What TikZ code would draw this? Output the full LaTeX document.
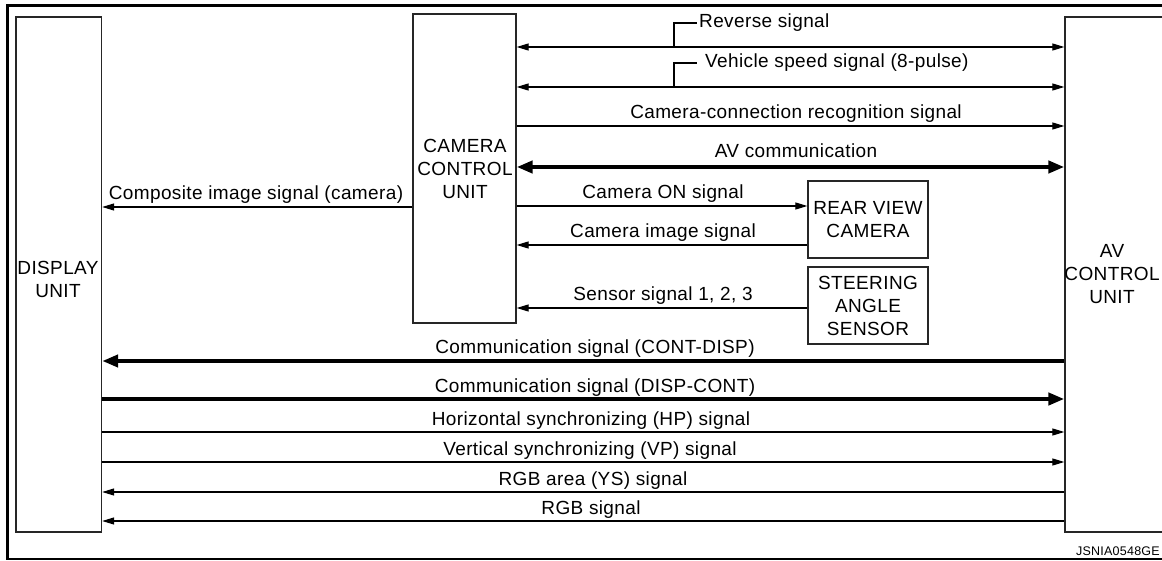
\documentclass[tikz,border=0pt]{standalone}
\usepackage{fontspec}
\setmainfont[LetterSpace=2]{Liberation Sans}
\usetikzlibrary{arrows.meta}
\begin{document}
\begin{tikzpicture}[x=1pt,y=-1pt,
  box/.style={draw=black!85,line width=1.3pt,inner sep=0pt},
  boxtxt/.style={align=center,inner sep=0pt,font=\fontsize{19}{23}\selectfont},
  lbl/.style={anchor=base,inner sep=0pt,font=\fontsize{19}{23}\selectfont},
  sig/.style={line width=1.2pt},
  sigr/.style={sig,-{Triangle[length=12pt,width=7pt]}},
  sigb/.style={sig,{Triangle[length=12pt,width=7pt]}-{Triangle[length=12pt,width=7pt]}},
  fatr/.style={line width=4.5pt,-{Triangle[length=16pt,width=12pt]}},
  fatb/.style={line width=4.5pt,{Triangle[length=16pt,width=12pt]}-{Triangle[length=16pt,width=12pt]}}
]
\useasboundingbox (0,0) rectangle (1162,561);
\clip (0,0) rectangle (1162,561);
\fill[white] (0,0) rectangle (1162,561);

% outer frame
\draw[line width=2.8pt] (1180,5.5) -- (7.5,5.5) -- (7.5,559) -- (1180,559);

% units
\node[box,minimum width=85.5pt,minimum height=515pt] (disp) at (58.75,274.5) {};
\node[boxtxt] (disptxt) at (58,279) {DISPLAY\\UNIT};
\node[box,minimum width=103pt,minimum height=309pt] (ccu) at (464.5,168.5) {};
\node[boxtxt] (ccutxt) at (465,169) {CAMERA\\CONTROL\\UNIT};
\node[box,minimum width=110pt,minimum height=515pt] (av) at (1120,274.5) {};
\node[boxtxt] (avtxt) at (1112,274) {AV\\CONTROL\\UNIT};
\node[box,boxtxt,minimum width=120pt,minimum height=77pt] (rvc) at (868,219.5) {REAR VIEW\\CAMERA};
\node[box,boxtxt,minimum width=120pt,minimum height=77pt] (sas) at (868,305.5) {STEERING\\ANGLE\\SENSOR};

% CCU <-> AV
\draw[sigb] (ccu.east |- 0,47) -- (av.west |- 0,47);
\node[lbl,anchor=base west,inner xsep=2pt] (lrev) at (697,28) {Reverse signal};
\coordinate (brev) at (674,47);
\draw[sig] (brev) |- (lrev.west);

\draw[sigb] (ccu.east |- 0,87) -- (av.west |- 0,87);
\node[lbl,anchor=base west] (lveh) at (705,68) {Vehicle speed signal (8-pulse)};
\coordinate (bveh) at (674,87);
\draw[sig,shorten >=8pt] (bveh) |- (lveh.west);

\draw[sigr] (ccu.east |- 0,126) -- (av.west |- 0,126);
\node[lbl] (lccr) at (796,119) {Camera-connection recognition signal};

\draw[fatb] (ccu.east |- 0,167) -- (av.west |- 0,167);
\node[lbl] (lavc) at (796,158) {AV communication};

% CCU -> display
\draw[sigr] (ccu.west |- 0,207) -- (disp.east |- 0,207);
\node[lbl] (lcomp) at (256,200) {Composite image signal (camera)};

% CCU <-> camera / sensor
\draw[sigr] (ccu.east |- 0,206) -- (rvc.west |- 0,206);
\node[lbl] (lcon) at (663,199) {Camera ON signal};
\draw[sigr] (rvc.west |- 0,245) -- (ccu.east |- 0,245);
\node[lbl] (lcim) at (663,238) {Camera image signal};
\draw[sigr] (sas.west |- 0,308) -- (ccu.east |- 0,308);
\node[lbl] (lsen) at (663,301) {Sensor signal 1, 2, 3};

% Display <-> AV
\draw[fatr] (av.west |- 0,361) -- (disp.east |- 0,361);
\node[lbl] (lcd) at (595,353) {Communication signal (CONT-DISP)};
\draw[fatr] (disp.east |- 0,399) -- (av.west |- 0,399);
\node[lbl] (ldc) at (595,392) {Communication signal (DISP-CONT)};
\draw[sigr] (disp.east |- 0,432) -- (av.west |- 0,432);
\node[lbl] (lhp) at (591,425) {Horizontal synchronizing (HP) signal};
\draw[sigr] (disp.east |- 0,462) -- (av.west |- 0,462);
\node[lbl] (lvp) at (590,455) {Vertical synchronizing (VP) signal};
\draw[sigr] (av.west |- 0,492) -- (disp.east |- 0,492);
\node[lbl] (lys) at (593,485) {RGB area (YS) signal};
\draw[sigr] (av.west |- 0,521) -- (disp.east |- 0,521);
\node[lbl] (lrgb) at (591,514) {RGB signal};

\node[anchor=base east,inner sep=0pt,font=\fontsize{12.5}{15}\selectfont] (code) at (1160,555) {JSNIA0548GE};
\end{tikzpicture}
\end{document}
